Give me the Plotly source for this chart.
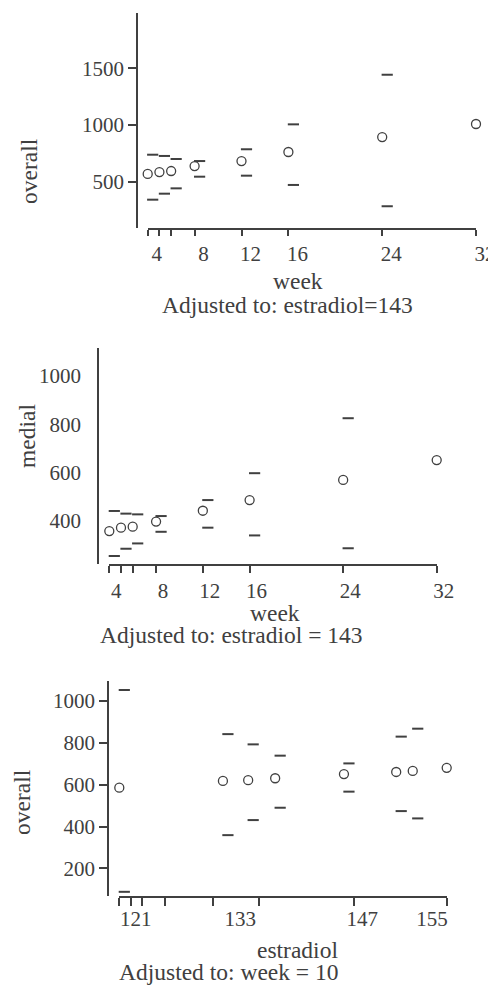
import plotly.graph_objects as go

# ---------------- data ----------------
weeks = [4, 5, 6, 8, 12, 16, 24, 32]
week_ticktext = ["4", "", "", "8", "12", "16", "24", "32"]

overall_by_week = [567, 584, 593, 637, 681, 761, 893, 1008]
overall_by_week_lower = [340, 393, 440, 543, 552, 470, 282, 108]
overall_by_week_upper = [737, 726, 699, 681, 785, 1005, 1443, 1882]

medial_by_week = [359, 373, 377, 398, 443, 487, 570, 652]
medial_by_week_lower = [256, 286, 308, 356, 373, 341, 288, 228]
medial_by_week_upper = [442, 431, 428, 421, 487, 598, 825, 1062]

estradiol = [119.1, 131.0, 133.9, 137.0, 144.9, 150.9, 152.8, 156.7]
overall_by_estradiol = [586, 618, 622, 631, 651, 661, 666, 681]
overall_by_estradiol_lower = [88, 359, 431, 490, 567, 474, 439, 368]
overall_by_estradiol_upper = [1053, 842, 793, 739, 702, 830, 868, 954]
estradiol_rug = [119.1, 120.4, 121.7, 124.4, 129.9, 135.2, 146.1, 156.7]
estradiol_labels = [121, 133, 147, 155]

overall_ticks = [500, 1000, 1500]
medial_ticks = [400, 600, 800, 1000]
overall_ticks_e = [200, 400, 600, 800, 1000]

caption1 = "Adjusted to: estradiol=143"
caption2 = "Adjusted to: estradiol = 143"
caption3 = "Adjusted to: week = 10"

# ---------------- styling ----------------
W, H = 488, 985
INK = "#404040"
FONT = "Liberation Serif"


def px(x):
    return x / W


def py(y):
    return 1 - y / H


fig = go.Figure()


def add_panel(xa, xo, ya, x, est, lo, hi):
    fig.add_trace(go.Scatter(
        x=x, y=est, xaxis=xa, yaxis=ya, mode="markers", cliponaxis=False,
        marker=dict(symbol="circle-open", size=9, color=INK,
                    line=dict(width=1.3, color=INK))))
    for vals in (lo, hi):
        fig.add_trace(go.Scatter(
            x=x, y=vals, xaxis=xo, yaxis=ya, mode="markers", cliponaxis=False,
            marker=dict(symbol="line-ew", size=8, color=INK,
                        line=dict(width=2, color=INK))))


add_panel("x", "x4", "y", weeks, overall_by_week, overall_by_week_lower, overall_by_week_upper)
add_panel("x2", "x5", "y2", weeks, medial_by_week, medial_by_week_lower, medial_by_week_upper)
add_panel("x3", "x6", "y3", estradiol, overall_by_estradiol,
          overall_by_estradiol_lower, overall_by_estradiol_upper)

tickfont = dict(family=FONT, size=21, color=INK)
base_axis = dict(showgrid=False, zeroline=False, showline=True, linecolor=INK,
                 linewidth=1.6, tickcolor=INK, tickwidth=1.5, tickfont=tickfont,
                 automargin=False, ticklabeloverflow="allow")

# panel geometry in pixels
p1 = dict(x0=147.7, x1=476.0, yaxis_x=137, top=13, bottom=228)
p2 = dict(x0=109.3, x1=436.7, yaxis_x=98, top=348, bottom=564)
p3 = dict(x0=119.3, x1=446.7, yaxis_x=108, top=681, bottom=896)

xr1 = [weeks[0], weeks[-1]]
xr3 = [estradiol_rug[0], estradiol_rug[-1]]
shift1 = 5 * (xr1[1] - xr1[0]) / (p1["x1"] - p1["x0"])
shift2 = 5 * (xr1[1] - xr1[0]) / (p2["x1"] - p2["x0"])
shift3 = 5 * (xr3[1] - xr3[0]) / (p3["x1"] - p3["x0"])

layout = dict(
    width=W, height=H, autosize=False,
    margin=dict(l=0, r=0, t=0, b=0, pad=0, autoexpand=False),
    paper_bgcolor="white", plot_bgcolor="white",
    showlegend=False,
    font=dict(family=FONT, color=INK),
    xaxis=dict(base_axis, domain=[px(p1["x0"]), px(p1["x1"])], range=xr1, anchor="y",
               tickvals=weeks, ticktext=week_ticktext, ticks="outside", ticklen=6,
               ticklabelshift=9),
    yaxis=dict(base_axis, domain=[py(p1["bottom"]), py(p1["top"])], range=[90, 1988],
               anchor="free", position=px(p1["yaxis_x"]), tickvals=overall_ticks,
               ticks="outside", ticklen=8),
    xaxis2=dict(base_axis, domain=[px(p2["x0"]), px(p2["x1"])], range=xr1, anchor="y2",
                tickvals=weeks, ticktext=week_ticktext, ticks="outside", ticklen=7,
                ticklabelshift=7),
    yaxis2=dict(base_axis, domain=[py(p2["bottom"]), py(p2["top"])], range=[223, 1115],
                anchor="free", position=px(p2["yaxis_x"]), tickvals=medial_ticks,
                ticks="outside", ticklen=12, tickcolor="rgba(0,0,0,0)"),
    xaxis3=dict(base_axis, domain=[px(p3["x0"]), px(p3["x1"])], range=xr3, anchor="y3",
                tickvals=estradiol_labels, ticks="outside", ticklen=3,
                tickcolor="rgba(0,0,0,0)",
                minor=dict(tickmode="array", tickvals=estradiol_rug, ticks="outside",
                           ticklen=8, tickwidth=1.5, tickcolor=INK, showgrid=False)),
    yaxis3=dict(base_axis, domain=[py(p3["bottom"]), py(p3["top"])], range=[68, 1096],
                anchor="free", position=px(p3["yaxis_x"]), tickvals=overall_ticks_e,
                ticks="outside", ticklen=8),
    xaxis4=dict(overlaying="x", anchor="y", visible=False, automargin=False,
                range=[xr1[0] - shift1, xr1[1] - shift1]),
    xaxis5=dict(overlaying="x2", anchor="y2", visible=False, automargin=False,
                range=[xr1[0] - shift2, xr1[1] - shift2]),
    xaxis6=dict(overlaying="x3", anchor="y3", visible=False, automargin=False,
                range=[xr3[0] - shift3, xr3[1] - shift3]),
)
fig.update_layout(**layout)

labfont = dict(family=FONT, size=23.5, color=INK)
notes = [
    ("overall", 29, 171, -90, "middle"),
    ("week", 298, 281, 0, "middle"),
    (caption1, 287.5, 305, 0, "middle"),
    ("medial", 27, 436, -90, "middle"),
    ("week", 275, 613, 0, "middle"),
    (caption2, 231, 635, 0, "middle"),
    ("overall", 22, 802, -90, "middle"),
    ("estradiol", 297, 950, 0, "middle"),
    (caption3, 229, 987, 0, "bottom"),
]
for text, x, y, ang, ya in notes:
    fig.add_annotation(text=text, x=px(x), y=py(y), xref="paper", yref="paper",
                       showarrow=False, textangle=ang, font=labfont,
                       xanchor="center", yanchor=ya)

fig.write_html(
    "out.html",
    config={"displayModeBar": False, "responsive": False},
    post_script="document.body.style.margin='0';document.body.style.overflow='hidden';",
)
